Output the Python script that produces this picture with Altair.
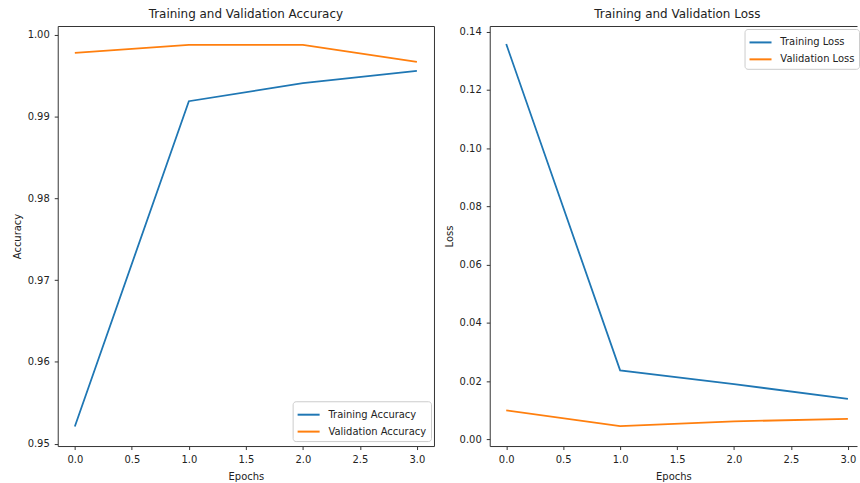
import altair as alt
import pandas as pd

# ---- data ----
epochs = [0, 1, 2, 3]
train_acc = [0.9521, 0.9919, 0.9941, 0.9956]
val_acc = [0.9978, 0.9988, 0.9988, 0.9967]
train_loss = [0.1357, 0.0237, 0.0190, 0.0139]
val_loss = [0.0100, 0.0046, 0.0062, 0.0071]

acc_series = ["Training Accuracy", "Validation Accuracy"]
loss_series = ["Training Loss", "Validation Loss"]
x_ticks = [0.0, 0.5, 1.0, 1.5, 2.0, 2.5, 3.0]
acc_ticks = [0.95, 0.96, 0.97, 0.98, 0.99, 1.00]
loss_ticks = [0.00, 0.02, 0.04, 0.06, 0.08, 0.10, 0.12, 0.14]
colors = ["#1f77b4", "#ff7f0e"]

FONT = "DejaVu Sans"
TXT = "#222222"
SPINE = "#333333"

df_acc = pd.DataFrame({
    "epoch": epochs * 2,
    "value": train_acc + val_acc,
    "series": [acc_series[0]] * 4 + [acc_series[1]] * 4,
})
df_loss = pd.DataFrame({
    "epoch": epochs * 2,
    "value": train_loss + val_loss,
    "series": [loss_series[0]] * 4 + [loss_series[1]] * 4,
})


def legend(lx, ly):
    return alt.Legend(
        title=None, orient="none", legendX=lx, legendY=ly,
        fillColor="rgba(255,255,255,0.8)", strokeColor="#cccccc",
        cornerRadius=3, padding=4, symbolType="M-1,0H1.6",
        symbolSize=289, symbolStrokeWidth=2, labelFontSize=10,
        labelFont=FONT, labelColor=TXT, labelOffset=13, rowPadding=2,
    )


def panel(df, series, y_dom, y_ticks, y_title, x_dom, w, title, lx, ly, right_spine, title_dx):
    xs = alt.Scale(domain=x_dom, nice=False, zero=False)
    ys = alt.Scale(domain=y_dom, nice=False, zero=False)
    y_axis = alt.Axis(orient="left", values=y_ticks, format=".2f", title=y_title)
    lines = alt.Chart(df).mark_line(strokeWidth=1.8, clip=True).encode(
        x=alt.X("epoch:Q", scale=xs,
                axis=alt.Axis(orient="bottom", values=x_ticks, format=".1f", title="Epochs")),
        y=alt.Y("value:Q", scale=ys, axis=y_axis),
        color=alt.Color("series:N", scale=alt.Scale(domain=series, range=colors),
                        legend=legend(lx, ly)),
    )
    if right_spine:
        yframe = alt.Y("value:Q", scale=ys,
                       axis=alt.Axis(orient="right", labels=False, ticks=False, title=None))
    else:
        yframe = alt.Y("value:Q", scale=ys, axis=y_axis)
    frame = alt.Chart(df).mark_line(opacity=0).encode(
        x=alt.X("epoch:Q", scale=xs,
                axis=alt.Axis(orient="top", labels=False, ticks=False, title=None)),
        y=yframe,
        detail="series:N",
    )
    return alt.layer(lines, frame).properties(
        width=w, height=422,
        title=alt.TitleParams(title, dx=title_dx),
    )


left = panel(df_acc, acc_series, [0.9497, 1.0011], acc_ticks, "Accuracy",
             [-0.15, 3.15], 378, "Training and Validation Accuracy",
             236, 377, True, 0)
right = panel(df_loss, loss_series, [-0.00226, 0.1419], loss_ticks, "Loss",
              [-0.145, 3.08], 369, "Training and Validation Loss",
              256, 3, False, 4)

chart = alt.hconcat(left, right, spacing=10).resolve_scale(
    color="independent"
).properties(
    padding={"left": 12, "top": 7, "right": 0, "bottom": 0},
    background="white",
).configure_view(
    stroke=None
).configure_axis(
    grid=False, domainColor=SPINE, domainWidth=1, tickColor=SPINE,
    tickSize=3.5, tickWidth=1, labelFont=FONT, titleFont=FONT,
    labelFontSize=10, titleFontSize=10, labelColor=TXT, titleColor=TXT,
    titleFontWeight="normal", labelPadding=5, titlePadding=7,
).configure_axisY(
    labelPadding=5, titlePadding=5,
).configure_title(
    font=FONT, fontSize=12, fontWeight="normal", color=TXT, offset=5,
    anchor="middle",
)

chart.save("out.html", embed_options={"renderer": "svg", "actions": False})
